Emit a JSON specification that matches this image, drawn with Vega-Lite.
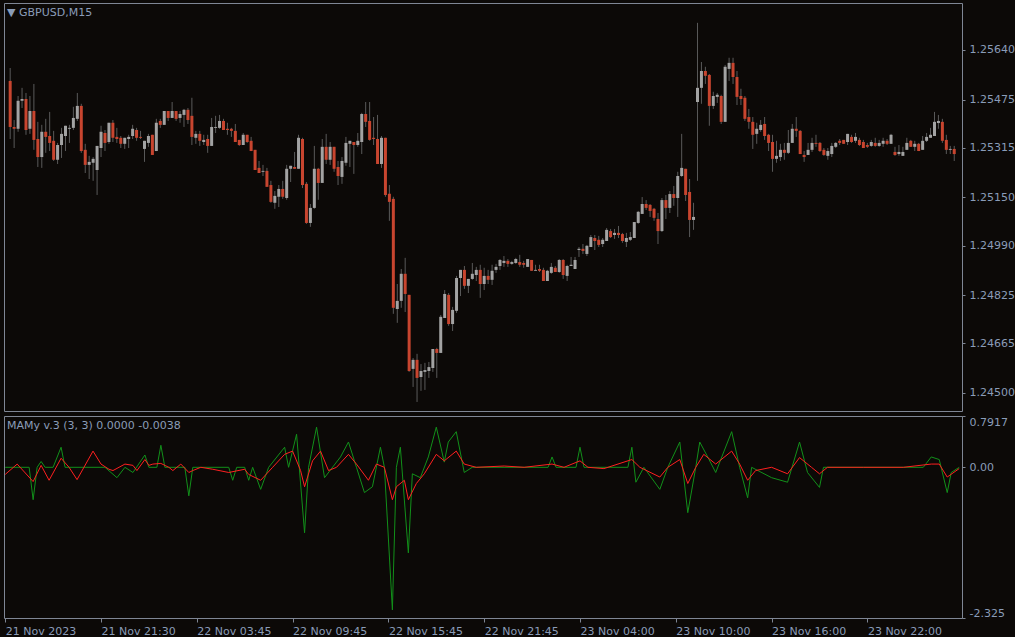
{
"$schema":"https://vega.github.io/schema/vega-lite/v6.json",
"background":"#0c0907",
"padding":{"left":2,"top":2,"right":0,"bottom":0},
"config":{"view":{"stroke":"#7f8694","strokeWidth":1},"concat":{"spacing":3},
"axis":{"labelFont":"DejaVu Sans","labelFontSize":11,"labelColor":"#8a9cb8","tickColor":"#7f8694","domain":false,"grid":false,"title":null,"tickSize":3,"labelPadding":4}},
"datasets":{
"c":[
{"i":0,"o":1.25537,"h":1.25580,"l":1.25344,"c":1.25384},
{"i":1,"o":1.25384,"h":1.25407,"l":1.25314,"c":1.25378},
{"i":2,"o":1.25378,"h":1.25487,"l":1.25368,"c":1.25471},
{"i":3,"o":1.25471,"h":1.25514,"l":1.25447,"c":1.25477},
{"i":4,"o":1.25477,"h":1.25497,"l":1.25358,"c":1.25374},
{"i":5,"o":1.25378,"h":1.25487,"l":1.25361,"c":1.25437},
{"i":6,"o":1.25437,"h":1.25527,"l":1.25308,"c":1.25341},
{"i":7,"o":1.25344,"h":1.25401,"l":1.25251,"c":1.25284},
{"i":8,"o":1.25284,"h":1.25391,"l":1.25248,"c":1.25368},
{"i":9,"o":1.25368,"h":1.25411,"l":1.25298,"c":1.25351},
{"i":10,"o":1.25354,"h":1.25434,"l":1.25304,"c":1.25331},
{"i":11,"o":1.25338,"h":1.25371,"l":1.25271,"c":1.25275},
{"i":12,"o":1.25275,"h":1.25331,"l":1.25261,"c":1.25324},
{"i":13,"o":1.25324,"h":1.25381,"l":1.25281,"c":1.25361},
{"i":14,"o":1.25354,"h":1.25388,"l":1.25304,"c":1.25388},
{"i":15,"o":1.25378,"h":1.25391,"l":1.25331,"c":1.25381},
{"i":16,"o":1.25381,"h":1.25451,"l":1.25374,"c":1.25414},
{"i":17,"o":1.25411,"h":1.25497,"l":1.25404,"c":1.25454},
{"i":18,"o":1.25454,"h":1.25461,"l":1.25298,"c":1.25304},
{"i":19,"o":1.25308,"h":1.25328,"l":1.25231,"c":1.25258},
{"i":20,"o":1.25258,"h":1.25288,"l":1.25211,"c":1.25268},
{"i":21,"o":1.25265,"h":1.25284,"l":1.25205,"c":1.25278},
{"i":22,"o":1.25241,"h":1.25321,"l":1.25158,"c":1.25321},
{"i":23,"o":1.25314,"h":1.25388,"l":1.25284,"c":1.25368},
{"i":24,"o":1.25364,"h":1.25374,"l":1.25304,"c":1.25331},
{"i":25,"o":1.25334,"h":1.25398,"l":1.25328,"c":1.25398},
{"i":26,"o":1.25398,"h":1.25407,"l":1.25334,"c":1.25348},
{"i":27,"o":1.25351,"h":1.25381,"l":1.25331,"c":1.25344},
{"i":28,"o":1.25348,"h":1.25354,"l":1.25314,"c":1.25328},
{"i":29,"o":1.25328,"h":1.25348,"l":1.25311,"c":1.25348},
{"i":30,"o":1.25344,"h":1.25358,"l":1.25314,"c":1.25351},
{"i":31,"o":1.25354,"h":1.25391,"l":1.25344,"c":1.25378},
{"i":32,"o":1.25374,"h":1.25381,"l":1.25338,"c":1.25348},
{"i":33,"o":1.25351,"h":1.25371,"l":1.25344,"c":1.25348},
{"i":34,"o":1.25311,"h":1.25338,"l":1.25268,"c":1.25338},
{"i":35,"o":1.25331,"h":1.25361,"l":1.25318,"c":1.25354},
{"i":36,"o":1.25358,"h":1.25358,"l":1.25291,"c":1.25291},
{"i":37,"o":1.25304,"h":1.25411,"l":1.25304,"c":1.25398},
{"i":38,"o":1.25404,"h":1.25411,"l":1.25381,"c":1.25391},
{"i":39,"o":1.25391,"h":1.25437,"l":1.25391,"c":1.25437},
{"i":40,"o":1.25437,"h":1.25437,"l":1.25404,"c":1.25414},
{"i":41,"o":1.25414,"h":1.25467,"l":1.25414,"c":1.25437},
{"i":42,"o":1.25437,"h":1.25437,"l":1.25404,"c":1.25411},
{"i":43,"o":1.25414,"h":1.25437,"l":1.25398,"c":1.25427},
{"i":44,"o":1.25424,"h":1.25444,"l":1.25384,"c":1.25441},
{"i":45,"o":1.25441,"h":1.25447,"l":1.25394,"c":1.25407},
{"i":46,"o":1.25421,"h":1.25481,"l":1.25324,"c":1.25351},
{"i":47,"o":1.25348,"h":1.25371,"l":1.25328,"c":1.25361},
{"i":48,"o":1.25361,"h":1.25371,"l":1.25321,"c":1.25338},
{"i":49,"o":1.25334,"h":1.25358,"l":1.25324,"c":1.25341},
{"i":50,"o":1.25344,"h":1.25358,"l":1.25298,"c":1.25321},
{"i":51,"o":1.25321,"h":1.25414,"l":1.25321,"c":1.25384},
{"i":52,"o":1.25381,"h":1.25421,"l":1.25364,"c":1.25384},
{"i":53,"o":1.25381,"h":1.25424,"l":1.25378,"c":1.25404},
{"i":54,"o":1.25404,"h":1.25411,"l":1.25374,"c":1.25374},
{"i":55,"o":1.25378,"h":1.25398,"l":1.25358,"c":1.25374},
{"i":56,"o":1.25378,"h":1.25381,"l":1.25351,"c":1.25371},
{"i":57,"o":1.25371,"h":1.25394,"l":1.25334,"c":1.25334},
{"i":58,"o":1.25341,"h":1.25341,"l":1.25321,"c":1.25324},
{"i":59,"o":1.25324,"h":1.25364,"l":1.25324,"c":1.25358},
{"i":60,"o":1.25358,"h":1.25358,"l":1.25331,"c":1.25334},
{"i":61,"o":1.25338,"h":1.25351,"l":1.25304,"c":1.25304},
{"i":62,"o":1.25308,"h":1.25308,"l":1.25241,"c":1.25241},
{"i":63,"o":1.25248,"h":1.25271,"l":1.25231,"c":1.25231},
{"i":64,"o":1.25235,"h":1.25258,"l":1.25221,"c":1.25238},
{"i":65,"o":1.25238,"h":1.25248,"l":1.25185,"c":1.25185},
{"i":66,"o":1.25191,"h":1.25205,"l":1.25132,"c":1.25135},
{"i":67,"o":1.25132,"h":1.25171,"l":1.25112,"c":1.25155},
{"i":68,"o":1.25152,"h":1.25191,"l":1.25118,"c":1.25178},
{"i":69,"o":1.25178,"h":1.25205,"l":1.25145,"c":1.25152},
{"i":70,"o":1.25148,"h":1.25258,"l":1.25142,"c":1.25245},
{"i":71,"o":1.25245,"h":1.25255,"l":1.25201,"c":1.25255},
{"i":72,"o":1.25251,"h":1.25301,"l":1.25245,"c":1.25245},
{"i":73,"o":1.25245,"h":1.25358,"l":1.25245,"c":1.25348},
{"i":74,"o":1.25344,"h":1.25348,"l":1.25181,"c":1.25191},
{"i":75,"o":1.25195,"h":1.25201,"l":1.25062,"c":1.25065},
{"i":76,"o":1.25065,"h":1.25128,"l":1.25052,"c":1.25115},
{"i":77,"o":1.25115,"h":1.25321,"l":1.25112,"c":1.25245},
{"i":78,"o":1.25245,"h":1.25248,"l":1.25142,"c":1.25198},
{"i":79,"o":1.25198,"h":1.25344,"l":1.25198,"c":1.25318},
{"i":80,"o":1.25318,"h":1.25361,"l":1.25261,"c":1.25275},
{"i":81,"o":1.25275,"h":1.25334,"l":1.25258,"c":1.25318},
{"i":82,"o":1.25318,"h":1.25318,"l":1.25235,"c":1.25245},
{"i":83,"o":1.25251,"h":1.25271,"l":1.25191,"c":1.25221},
{"i":84,"o":1.25218,"h":1.25284,"l":1.25195,"c":1.25271},
{"i":85,"o":1.25265,"h":1.25351,"l":1.25255,"c":1.25331},
{"i":86,"o":1.25328,"h":1.25338,"l":1.25251,"c":1.25338},
{"i":87,"o":1.25334,"h":1.25334,"l":1.25228,"c":1.25324},
{"i":88,"o":1.25324,"h":1.25364,"l":1.25318,"c":1.25338},
{"i":89,"o":1.25334,"h":1.25431,"l":1.25294,"c":1.25427},
{"i":90,"o":1.25427,"h":1.25467,"l":1.25384,"c":1.25401},
{"i":91,"o":1.25404,"h":1.25467,"l":1.25338,"c":1.25341},
{"i":92,"o":1.25348,"h":1.25417,"l":1.25324,"c":1.25344},
{"i":93,"o":1.25344,"h":1.25424,"l":1.25261,"c":1.25261},
{"i":94,"o":1.25261,"h":1.25354,"l":1.25248,"c":1.25348},
{"i":95,"o":1.25348,"h":1.25348,"l":1.25152,"c":1.25158},
{"i":96,"o":1.25162,"h":1.25191,"l":1.25072,"c":1.25135},
{"i":97,"o":1.25145,"h":1.25152,"l":1.24763,"c":1.24783},
{"i":98,"o":1.24779,"h":1.24862,"l":1.24733,"c":1.24806},
{"i":99,"o":1.24806,"h":1.24912,"l":1.24783,"c":1.24896},
{"i":100,"o":1.24896,"h":1.24949,"l":1.24769,"c":1.24829},
{"i":101,"o":1.24826,"h":1.24826,"l":1.24570,"c":1.24573},
{"i":102,"o":1.24580,"h":1.24616,"l":1.24520,"c":1.24610},
{"i":103,"o":1.24610,"h":1.24630,"l":1.24470,"c":1.24550},
{"i":104,"o":1.24553,"h":1.24596,"l":1.24507,"c":1.24573},
{"i":105,"o":1.24570,"h":1.24600,"l":1.24510,"c":1.24576},
{"i":106,"o":1.24573,"h":1.24603,"l":1.24550,"c":1.24586},
{"i":107,"o":1.24583,"h":1.24646,"l":1.24570,"c":1.24646},
{"i":108,"o":1.24646,"h":1.24650,"l":1.24550,"c":1.24633},
{"i":109,"o":1.24633,"h":1.24759,"l":1.24633,"c":1.24753},
{"i":110,"o":1.24749,"h":1.24842,"l":1.24749,"c":1.24829},
{"i":111,"o":1.24826,"h":1.24832,"l":1.24723,"c":1.24729},
{"i":112,"o":1.24729,"h":1.24786,"l":1.24706,"c":1.24776},
{"i":113,"o":1.24773,"h":1.24889,"l":1.24766,"c":1.24882},
{"i":114,"o":1.24882,"h":1.24909,"l":1.24822,"c":1.24909},
{"i":115,"o":1.24909,"h":1.24922,"l":1.24846,"c":1.24856},
{"i":116,"o":1.24856,"h":1.24879,"l":1.24832,"c":1.24879},
{"i":117,"o":1.24879,"h":1.24932,"l":1.24876,"c":1.24896},
{"i":118,"o":1.24892,"h":1.24919,"l":1.24872,"c":1.24909},
{"i":119,"o":1.24909,"h":1.24926,"l":1.24816,"c":1.24862},
{"i":120,"o":1.24862,"h":1.24916,"l":1.24842,"c":1.24889},
{"i":121,"o":1.24889,"h":1.24909,"l":1.24862,"c":1.24876},
{"i":122,"o":1.24876,"h":1.24926,"l":1.24859,"c":1.24906},
{"i":123,"o":1.24909,"h":1.24929,"l":1.24899,"c":1.24919},
{"i":124,"o":1.24922,"h":1.24945,"l":1.24909,"c":1.24942},
{"i":125,"o":1.24932,"h":1.24955,"l":1.24919,"c":1.24939},
{"i":126,"o":1.24939,"h":1.24945,"l":1.24919,"c":1.24929},
{"i":127,"o":1.24929,"h":1.24939,"l":1.24926,"c":1.24935},
{"i":128,"o":1.24932,"h":1.24949,"l":1.24929,"c":1.24945},
{"i":129,"o":1.24935,"h":1.24959,"l":1.24919,"c":1.24926},
{"i":130,"o":1.24932,"h":1.24939,"l":1.24916,"c":1.24926},
{"i":131,"o":1.24919,"h":1.24945,"l":1.24919,"c":1.24945},
{"i":132,"o":1.24942,"h":1.24942,"l":1.24906,"c":1.24906},
{"i":133,"o":1.24906,"h":1.24926,"l":1.24906,"c":1.24909},
{"i":134,"o":1.24912,"h":1.24926,"l":1.24902,"c":1.24906},
{"i":135,"o":1.24909,"h":1.24916,"l":1.24872,"c":1.24872},
{"i":136,"o":1.24872,"h":1.24909,"l":1.24872,"c":1.24906},
{"i":137,"o":1.24899,"h":1.24932,"l":1.24896,"c":1.24919},
{"i":138,"o":1.24916,"h":1.24922,"l":1.24902,"c":1.24902},
{"i":139,"o":1.24902,"h":1.24945,"l":1.24899,"c":1.24942},
{"i":140,"o":1.24942,"h":1.24945,"l":1.24879,"c":1.24892},
{"i":141,"o":1.24889,"h":1.24926,"l":1.24872,"c":1.24922},
{"i":142,"o":1.24922,"h":1.24952,"l":1.24922,"c":1.24926},
{"i":143,"o":1.24912,"h":1.24952,"l":1.24912,"c":1.24942},
{"i":144,"o":1.24975,"h":1.24985,"l":1.24952,"c":1.24979},
{"i":145,"o":1.24979,"h":1.24995,"l":1.24962,"c":1.24972},
{"i":146,"o":1.24962,"h":1.24992,"l":1.24955,"c":1.24989},
{"i":147,"o":1.24985,"h":1.25025,"l":1.24985,"c":1.25018},
{"i":148,"o":1.25015,"h":1.25025,"l":1.24975,"c":1.25005},
{"i":149,"o":1.25009,"h":1.25022,"l":1.24985,"c":1.24992},
{"i":150,"o":1.24995,"h":1.25015,"l":1.24985,"c":1.25009},
{"i":151,"o":1.25005,"h":1.25048,"l":1.25005,"c":1.25042},
{"i":152,"o":1.25038,"h":1.25045,"l":1.25015,"c":1.25018},
{"i":153,"o":1.25025,"h":1.25045,"l":1.25012,"c":1.25032},
{"i":154,"o":1.25032,"h":1.25055,"l":1.25015,"c":1.25025},
{"i":155,"o":1.25028,"h":1.25032,"l":1.24999,"c":1.25005},
{"i":156,"o":1.25002,"h":1.25032,"l":1.24985,"c":1.25015},
{"i":157,"o":1.25009,"h":1.25035,"l":1.25005,"c":1.25018},
{"i":158,"o":1.25015,"h":1.25068,"l":1.25015,"c":1.25068},
{"i":159,"o":1.25065,"h":1.25105,"l":1.25062,"c":1.25102},
{"i":160,"o":1.25095,"h":1.25151,"l":1.25095,"c":1.25128},
{"i":161,"o":1.25128,"h":1.25141,"l":1.25108,"c":1.25115},
{"i":162,"o":1.25125,"h":1.25128,"l":1.25085,"c":1.25105},
{"i":163,"o":1.25112,"h":1.25115,"l":1.25072,"c":1.25082},
{"i":164,"o":1.25078,"h":1.25098,"l":1.24995,"c":1.25038},
{"i":165,"o":1.25038,"h":1.25148,"l":1.25035,"c":1.25141},
{"i":166,"o":1.25141,"h":1.25158,"l":1.25078,"c":1.25115},
{"i":167,"o":1.25115,"h":1.25171,"l":1.25098,"c":1.25161},
{"i":168,"o":1.25161,"h":1.25188,"l":1.25122,"c":1.25148},
{"i":169,"o":1.25148,"h":1.25235,"l":1.25085,"c":1.25221},
{"i":170,"o":1.25221,"h":1.25361,"l":1.25218,"c":1.25248},
{"i":171,"o":1.25245,"h":1.25245,"l":1.25138,"c":1.25158},
{"i":172,"o":1.25168,"h":1.25211,"l":1.25018,"c":1.25075},
{"i":173,"o":1.25075,"h":1.25132,"l":1.25042,"c":1.25085},
{"i":174,"o":1.25467,"h":1.25730,"l":1.25205,"c":1.25514},
{"i":175,"o":1.25514,"h":1.25600,"l":1.25461,"c":1.25570},
{"i":176,"o":1.25570,"h":1.25584,"l":1.25527,"c":1.25554},
{"i":177,"o":1.25557,"h":1.25560,"l":1.25388,"c":1.25454},
{"i":178,"o":1.25454,"h":1.25501,"l":1.25444,"c":1.25487},
{"i":179,"o":1.25484,"h":1.25497,"l":1.25464,"c":1.25491},
{"i":180,"o":1.25487,"h":1.25491,"l":1.25394,"c":1.25401},
{"i":181,"o":1.25401,"h":1.25590,"l":1.25401,"c":1.25584},
{"i":182,"o":1.25577,"h":1.25614,"l":1.25537,"c":1.25597},
{"i":183,"o":1.25597,"h":1.25614,"l":1.25527,"c":1.25550},
{"i":184,"o":1.25550,"h":1.25570,"l":1.25457,"c":1.25484},
{"i":185,"o":1.25487,"h":1.25511,"l":1.25457,"c":1.25477},
{"i":186,"o":1.25481,"h":1.25487,"l":1.25404,"c":1.25411},
{"i":187,"o":1.25417,"h":1.25444,"l":1.25378,"c":1.25401},
{"i":188,"o":1.25401,"h":1.25417,"l":1.25311,"c":1.25358},
{"i":189,"o":1.25361,"h":1.25398,"l":1.25328,"c":1.25378},
{"i":190,"o":1.25374,"h":1.25407,"l":1.25368,"c":1.25391},
{"i":191,"o":1.25394,"h":1.25417,"l":1.25341,"c":1.25354},
{"i":192,"o":1.25358,"h":1.25361,"l":1.25304,"c":1.25331},
{"i":193,"o":1.25334,"h":1.25358,"l":1.25235,"c":1.25278},
{"i":194,"o":1.25278,"h":1.25338,"l":1.25265,"c":1.25288},
{"i":195,"o":1.25284,"h":1.25328,"l":1.25271,"c":1.25308},
{"i":196,"o":1.25308,"h":1.25331,"l":1.25275,"c":1.25298},
{"i":197,"o":1.25298,"h":1.25374,"l":1.25294,"c":1.25331},
{"i":198,"o":1.25331,"h":1.25394,"l":1.25331,"c":1.25378},
{"i":199,"o":1.25378,"h":1.25417,"l":1.25351,"c":1.25371},
{"i":200,"o":1.25371,"h":1.25374,"l":1.25294,"c":1.25294},
{"i":201,"o":1.25291,"h":1.25304,"l":1.25268,"c":1.25284},
{"i":202,"o":1.25291,"h":1.25331,"l":1.25291,"c":1.25308},
{"i":203,"o":1.25308,"h":1.25348,"l":1.25301,"c":1.25331},
{"i":204,"o":1.25331,"h":1.25358,"l":1.25318,"c":1.25328},
{"i":205,"o":1.25331,"h":1.25334,"l":1.25301,"c":1.25304},
{"i":206,"o":1.25308,"h":1.25314,"l":1.25288,"c":1.25291},
{"i":207,"o":1.25288,"h":1.25314,"l":1.25275,"c":1.25304},
{"i":208,"o":1.25294,"h":1.25331,"l":1.25284,"c":1.25321},
{"i":209,"o":1.25318,"h":1.25334,"l":1.25314,"c":1.25331},
{"i":210,"o":1.25338,"h":1.25344,"l":1.25324,"c":1.25331},
{"i":211,"o":1.25341,"h":1.25341,"l":1.25328,"c":1.25328},
{"i":212,"o":1.25334,"h":1.25361,"l":1.25324,"c":1.25361},
{"i":213,"o":1.25351,"h":1.25358,"l":1.25331,"c":1.25334},
{"i":214,"o":1.25338,"h":1.25364,"l":1.25331,"c":1.25351},
{"i":215,"o":1.25341,"h":1.25348,"l":1.25321,"c":1.25324},
{"i":216,"o":1.25334,"h":1.25341,"l":1.25314,"c":1.25314},
{"i":217,"o":1.25324,"h":1.25331,"l":1.25314,"c":1.25318},
{"i":218,"o":1.25321,"h":1.25341,"l":1.25318,"c":1.25334},
{"i":219,"o":1.25331,"h":1.25348,"l":1.25318,"c":1.25321},
{"i":220,"o":1.25321,"h":1.25341,"l":1.25318,"c":1.25331},
{"i":221,"o":1.25328,"h":1.25348,"l":1.25318,"c":1.25338},
{"i":222,"o":1.25338,"h":1.25344,"l":1.25324,"c":1.25328},
{"i":223,"o":1.25328,"h":1.25361,"l":1.25328,"c":1.25358},
{"i":224,"o":1.25301,"h":1.25318,"l":1.25288,"c":1.25291},
{"i":225,"o":1.25294,"h":1.25324,"l":1.25288,"c":1.25301},
{"i":226,"o":1.25288,"h":1.25318,"l":1.25288,"c":1.25301},
{"i":227,"o":1.25308,"h":1.25348,"l":1.25308,"c":1.25331},
{"i":228,"o":1.25338,"h":1.25341,"l":1.25318,"c":1.25318},
{"i":229,"o":1.25318,"h":1.25338,"l":1.25304,"c":1.25328},
{"i":230,"o":1.25328,"h":1.25331,"l":1.25304,"c":1.25304},
{"i":231,"o":1.25308,"h":1.25354,"l":1.25308,"c":1.25338},
{"i":232,"o":1.25338,"h":1.25364,"l":1.25334,"c":1.25351},
{"i":233,"o":1.25348,"h":1.25381,"l":1.25348,"c":1.25358},
{"i":234,"o":1.25354,"h":1.25434,"l":1.25354,"c":1.25401},
{"i":235,"o":1.25397,"h":1.25424,"l":1.25378,"c":1.25404},
{"i":236,"o":1.25401,"h":1.25411,"l":1.25331,"c":1.25338},
{"i":237,"o":1.25341,"h":1.25358,"l":1.25294,"c":1.25308},
{"i":238,"o":1.25308,"h":1.25321,"l":1.25294,"c":1.25311},
{"i":239,"o":1.25311,"h":1.25321,"l":1.25271,"c":1.25294}
],
"g":[
{"i":0,"v":0},{"i":6,"v":0},{"i":7,"v":-0.5},{"i":8,"v":0},{"i":9,"v":0.09},{"i":10,"v":0},{"i":12,"v":0},{"i":14,"v":0.31},{"i":15,"v":0},{"i":25,"v":0},{"i":28,"v":-0.16},{"i":30,"v":0},{"i":32,"v":-0.08},{"i":35,"v":0.19},{"i":36,"v":0},{"i":38,"v":0},{"i":39,"v":0.34},{"i":40,"v":0},{"i":45,"v":0},{"i":46,"v":-0.44},{"i":47,"v":0},{"i":56,"v":0},{"i":57,"v":-0.2},{"i":58,"v":0},{"i":60,"v":0},{"i":61,"v":-0.2},{"i":62,"v":0},{"i":64,"v":-0.34},{"i":66,"v":0},{"i":70,"v":0.31},{"i":71,"v":0},{"i":73,"v":0.51},{"i":75,"v":-1.01},{"i":76,"v":0},{"i":78,"v":0.62},{"i":80,"v":-0.16},{"i":84,"v":0.16},{"i":86,"v":0.39},{"i":88,"v":0},{"i":90,"v":-0.39},{"i":92,"v":-0.3},{"i":94,"v":0.31},{"i":95,"v":0},{"i":97,"v":-2.2},{"i":98,"v":0},{"i":99,"v":0.31},{"i":101,"v":-1.32},{"i":102,"v":-0.1},{"i":104,"v":-0.16},{"i":106,"v":0.16},{"i":108,"v":0.62},{"i":110,"v":0.08},{"i":111,"v":0.39},{"i":113,"v":0.55},{"i":115,"v":-0.08},{"i":117,"v":0},{"i":136,"v":0},{"i":137,"v":0.16},{"i":138,"v":0},{"i":143,"v":0},{"i":144,"v":0.31},{"i":145,"v":0},{"i":156,"v":0},{"i":157,"v":0.31},{"i":158,"v":-0.23},{"i":160,"v":0},{"i":164,"v":-0.34},{"i":166,"v":0},{"i":169,"v":0.39},{"i":171,"v":-0.7},{"i":173,"v":0},{"i":174,"v":0.39},{"i":176,"v":0.16},{"i":178,"v":-0.08},{"i":182,"v":0.55},{"i":184,"v":0},{"i":186,"v":-0.47},{"i":187,"v":0},{"i":192,"v":-0.16},{"i":196,"v":-0.23},{"i":199,"v":0.39},{"i":201,"v":-0.08},{"i":204,"v":-0.31},{"i":205,"v":0},{"i":230,"v":0},{"i":232,"v":0.16},{"i":234,"v":0.12},{"i":236,"v":-0.39},{"i":237,"v":-0.08},{"i":239,"v":0}
],
"r":[
{"i":0,"v":-0.11},{"i":3,"v":0.05},{"i":7,"v":-0.22},{"i":9,"v":0.03},{"i":11,"v":-0.2},{"i":14,"v":0.14},{"i":16,"v":0},{"i":18,"v":-0.19},{"i":22,"v":0.25},{"i":24,"v":0.05},{"i":26,"v":-0.03},{"i":27,"v":-0.05},{"i":30,"v":0.05},{"i":32,"v":0.03},{"i":33,"v":-0.05},{"i":35,"v":0.12},{"i":36,"v":0.03},{"i":37,"v":0.05},{"i":39,"v":0.06},{"i":41,"v":0},{"i":42,"v":-0.05},{"i":44,"v":0.05},{"i":46,"v":-0.08},{"i":47,"v":-0.05},{"i":49,"v":0},{"i":52,"v":-0.03},{"i":56,"v":-0.08},{"i":60,"v":-0.03},{"i":61,"v":-0.11},{"i":64,"v":-0.2},{"i":67,"v":0},{"i":70,"v":0.2},{"i":72,"v":0.25},{"i":74,"v":-0.05},{"i":75,"v":-0.3},{"i":77,"v":0.1},{"i":79,"v":0.25},{"i":81,"v":-0.05},{"i":83,"v":0},{"i":86,"v":0.2},{"i":88,"v":0.05},{"i":91,"v":-0.2},{"i":93,"v":0.05},{"i":95,"v":0},{"i":97,"v":-0.5},{"i":98,"v":-0.3},{"i":100,"v":-0.2},{"i":101,"v":-0.5},{"i":103,"v":-0.25},{"i":105,"v":-0.1},{"i":108,"v":0.2},{"i":110,"v":0.1},{"i":113,"v":0.25},{"i":115,"v":0.05},{"i":118,"v":0},{"i":125,"v":0.02},{"i":130,"v":0},{"i":137,"v":0.05},{"i":140,"v":0},{"i":144,"v":0.1},{"i":146,"v":0},{"i":150,"v":-0.02},{"i":157,"v":0.12},{"i":159,"v":0},{"i":164,"v":-0.15},{"i":166,"v":0},{"i":169,"v":0.12},{"i":171,"v":-0.25},{"i":173,"v":0},{"i":175,"v":0.2},{"i":178,"v":0.05},{"i":182,"v":0.25},{"i":184,"v":0.05},{"i":186,"v":-0.2},{"i":188,"v":-0.05},{"i":192,"v":0},{"i":196,"v":-0.1},{"i":199,"v":0.15},{"i":202,"v":0},{"i":204,"v":-0.1},{"i":206,"v":0},{"i":215,"v":0},{"i":225,"v":0},{"i":232,"v":0.05},{"i":234,"v":0.05},{"i":236,"v":-0.15},{"i":239,"v":-0.02}
],
"t1":[{"t":"▼ GBPUSD,M15"}],
"t2":[{"t":"MAMy v.3 (3, 3) 0.0000 -0.0038"}]
},
"vconcat":[
{
"width":958,"height":408,
"layer":[
{"data":{"name":"c"},"mark":{"type":"rule","color":"#5a5a5a","strokeWidth":1},
"encoding":{"x":{"field":"i","type":"quantitative","scale":{"domain":[-0.3,239.7],"nice":false,"zero":false},"axis":null},
"y":{"field":"l","type":"quantitative","scale":{"domain":[1.2444,1.25796],"nice":false,"zero":false},"axis":{"orient":"right","values":[1.245,1.24665,1.24825,1.2499,1.2515,1.25315,1.25475,1.2564],"format":".5f"}},"y2":{"field":"h"}}},
{"data":{"name":"c"},"mark":{"type":"bar","width":3},
"encoding":{"x":{"field":"i","type":"quantitative"},"y":{"field":"o","type":"quantitative"},"y2":{"field":"c"},
"color":{"condition":{"test":"datum.c >= datum.o","value":"#a3a3a3"},"value":"#c8452f"}}},
{"data":{"name":"t1"},"mark":{"type":"text","align":"left","baseline":"middle","font":"DejaVu Sans","fontSize":11,"color":"#8a9cb8","dx":-2,"dy":10},
"encoding":{"x":{"datum":-0.3,"type":"quantitative"},"y":{"datum":1.25796,"type":"quantitative"},"text":{"field":"t","type":"nominal"}}}
]
},
{
"width":958,"height":202,
"layer":[
{"data":{"name":"g"},"mark":{"type":"line","color":"#12901a","strokeWidth":1},
"encoding":{"x":{"field":"i","type":"quantitative","scale":{"domain":[-0.3,239.7],"nice":false,"zero":false},
"axis":{"values":[0,24,48,72,96,120,144,168,192,216],"labelAlign":"left","tickSize":4,"labelPadding":3,"labelFlush":false,"labelOverlap":false,"labelBound":false,
"labelExpr":"['21 Nov 2023','21 Nov 21:30','22 Nov 03:45','22 Nov 09:45','22 Nov 15:45','22 Nov 21:45','23 Nov 04:00','23 Nov 10:00','23 Nov 16:00','23 Nov 22:00'][round(datum.value/24)]"}},
"y":{"field":"v","type":"quantitative","scale":{"domain":[-2.325,0.7917],"nice":false,"zero":false},
"axis":{"orient":"right","values":[-2.325,0,0.7917],"labelFlush":true,"labelExpr":"datum.value == 0 ? '0.00' : (datum.value > 0 ? '0.7917' : '-2.325')"}}}},
{"data":{"name":"r"},"mark":{"type":"line","color":"#ff2020","strokeWidth":1},
"encoding":{"x":{"field":"i","type":"quantitative"},"y":{"field":"v","type":"quantitative"}}},
{"data":{"name":"t2"},"mark":{"type":"text","align":"left","baseline":"middle","font":"DejaVu Sans","fontSize":11,"color":"#8a9cb8","dx":3,"dy":10},
"encoding":{"x":{"datum":-0.3,"type":"quantitative"},"y":{"datum":0.7917,"type":"quantitative"},"text":{"field":"t","type":"nominal"}}}
]
}
]
}
